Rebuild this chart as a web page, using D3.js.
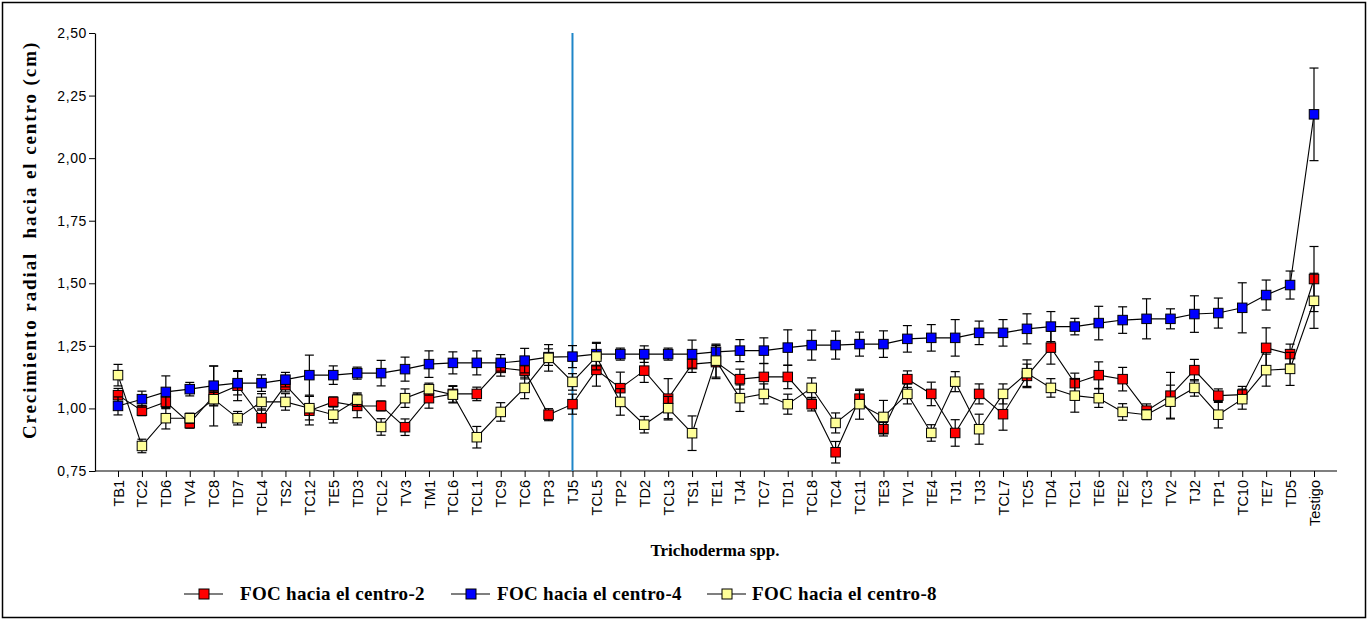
<!DOCTYPE html>
<html><head><meta charset="utf-8">
<script src="https://cdn.jsdelivr.net/npm/d3@7"></script>
<style>body{margin:0;background:#fff}svg{display:block}</style>
</head><body>
<svg id="c" width="1370" height="621"></svg>
<script>
const categories = ["TB1","TC2","TD6","TV4","TC8","TD7","TCL4","TS2","TC12","TE5","TD3","TCL2","TV3","TM1","TCL6","TCL1","TC9","TC6","TP3","TJ5","TCL5","TP2","TD2","TCL3","TS1","TE1","TJ4","TC7","TD1","TCL8","TC4","TC11","TE3","TV1","TE4","TJ1","TJ3","TCL7","TC5","TD4","TC1","TE6","TE2","TC3","TV2","TJ2","TP1","TC10","TE7","TD5","Testigo"];

const foc2 = [1.053,0.991,1.026,0.941,1.050,1.091,0.961,1.093,0.991,1.026,1.010,1.010,0.925,1.041,1.058,1.058,1.162,1.151,0.975,1.017,1.154,1.081,1.151,1.039,1.177,1.185,1.117,1.126,1.126,1.017,0.825,1.039,0.917,1.117,1.058,0.902,1.058,0.977,1.130,1.243,1.101,1.133,1.117,0.991,1.051,1.153,1.051,1.055,1.242,1.217,1.517];
const foc2Err = [0.027,0.020,0.027,0.020,0.120,0.060,0.037,0.027,0.057,0.020,0.047,0.020,0.033,0.040,0.033,0.027,0.033,0.033,0.024,0.040,0.065,0.064,0.047,0.080,0.033,0.066,0.040,0.053,0.047,0.027,0.043,0.033,0.027,0.033,0.047,0.053,0.040,0.064,0.047,0.066,0.040,0.053,0.047,0.027,0.093,0.043,0.027,0.033,0.080,0.040,0.130];

const foc4 = [1.010,1.037,1.066,1.077,1.091,1.101,1.101,1.115,1.133,1.133,1.141,1.141,1.157,1.177,1.182,1.182,1.182,1.191,1.205,1.207,1.217,1.217,1.217,1.217,1.217,1.226,1.231,1.231,1.243,1.253,1.253,1.257,1.257,1.278,1.282,1.282,1.302,1.302,1.318,1.327,1.327,1.341,1.353,1.358,1.358,1.377,1.381,1.402,1.453,1.493,2.175];
const foc4Err = [0.036,0.032,0.064,0.027,0.078,0.047,0.033,0.029,0.080,0.037,0.024,0.051,0.048,0.053,0.044,0.048,0.033,0.049,0.033,0.044,0.047,0.024,0.033,0.024,0.056,0.027,0.044,0.051,0.071,0.060,0.056,0.048,0.053,0.053,0.053,0.073,0.047,0.053,0.060,0.060,0.033,0.067,0.053,0.080,0.040,0.073,0.060,0.100,0.060,0.056,0.185];

const foc8 = [1.133,0.850,0.961,0.961,1.037,0.961,1.026,1.026,1.001,0.975,1.035,0.926,1.041,1.077,1.055,0.885,0.986,1.082,1.202,1.106,1.207,1.026,0.935,1.001,0.901,1.191,1.041,1.058,1.017,1.082,0.942,1.017,0.966,1.058,0.902,1.107,0.917,1.058,1.141,1.082,1.051,1.041,0.986,0.975,1.027,1.082,0.975,1.037,1.153,1.158,1.430];
const foc8Err = [0.043,0.027,0.043,0.020,0.027,0.027,0.033,0.033,0.047,0.033,0.027,0.033,0.037,0.024,0.033,0.043,0.037,0.043,0.053,0.033,0.053,0.053,0.033,0.047,0.069,0.066,0.053,0.040,0.040,0.040,0.040,0.060,0.066,0.040,0.033,0.040,0.060,0.040,0.053,0.037,0.066,0.037,0.033,0.020,0.066,0.033,0.053,0.040,0.064,0.066,0.110];

const yTicks = [0.75,1.00,1.25,1.50,1.75,2.00,2.25,2.50];
const seriesNames = ["FOC hacia el centro-2","FOC hacia el centro-4","FOC hacia el centro-8"];
const seriesColors = ["#ff0000","#0000ff","#ffff99"];
const dividerCategory = "TJ5";

const series = [
  {name: seriesNames[0], color: seriesColors[0], v: foc2, e: foc2Err},
  {name: seriesNames[1], color: seriesColors[1], v: foc4, e: foc4Err},
  {name: seriesNames[2], color: seriesColors[2], v: foc8, e: foc8Err}
];

const svg = d3.select("#c");
const sans = "'Liberation Sans', Arial, sans-serif";
const serif = "'Liberation Serif', 'Times New Roman', serif";

// outer frame
svg.append("rect").attr("x",2.5).attr("y",2.5).attr("width",1363).attr("height",615)
  .attr("fill","none").attr("stroke","#000").attr("stroke-width",1.5);

const m = {left: 95, right: 1337, top: 33, bottom: 471};
const x = d3.scalePoint().domain(categories).range([118, 1314]);
const y = d3.scaleLinear().domain([0.75, 2.5]).range([m.bottom, m.top]);
const fmt = v => d3.format(".2f")(v).replace(".", ",");

// Y axis
const yAxis = svg.append("g").attr("transform",`translate(${m.left},0)`)
  .call(d3.axisLeft(y).tickValues(yTicks).tickFormat(fmt).tickSize(6).tickSizeOuter(0));
yAxis.select(".domain").attr("stroke","#000").attr("stroke-width",1.2);
yAxis.selectAll("text").attr("font-family",sans).attr("font-size",14).attr("fill","#000")
  .attr("letter-spacing",0.6).attr("dx",1);

// X axis
const xAxis = svg.append("g").attr("transform",`translate(0,${m.bottom})`)
  .call(d3.axisBottom(x).tickSize(6).tickSizeOuter(0));
xAxis.select(".domain").attr("d",`M${m.left},0H${m.right}`).attr("stroke","#000").attr("stroke-width",1.2);
xAxis.selectAll("text").attr("font-family",sans).attr("font-size",14.5).attr("fill","#000")
  .attr("transform","rotate(-90)").attr("text-anchor","end").attr("dy","0.35em").attr("x",-9).attr("y",0);

// divider line
svg.append("line").attr("x1",x(dividerCategory)).attr("x2",x(dividerCategory))
  .attr("y1",y(2.5)).attr("y2",m.bottom).attr("stroke","#1f86c8").attr("stroke-width",2);

// series: lines, error bars, markers
const line = d3.line().x((d,i)=>x(categories[i])).y(d=>y(d));
series.forEach(s=>{
  const g = svg.append("g");
  g.append("path").datum(s.v).attr("d",line).attr("fill","none").attr("stroke","#000").attr("stroke-width",1.1);
  const eb = g.selectAll(".eb").data(s.v).enter().append("g");
  eb.append("line").attr("x1",(d,i)=>x(categories[i])).attr("x2",(d,i)=>x(categories[i]))
    .attr("y1",(d,i)=>y(d+s.e[i])).attr("y2",(d,i)=>y(d-s.e[i])).attr("stroke","#000").attr("stroke-width",1.2);
  [1,-1].forEach(sg=>{
    eb.append("line").attr("x1",(d,i)=>x(categories[i])-4.5).attr("x2",(d,i)=>x(categories[i])+4.5)
      .attr("y1",(d,i)=>y(d+sg*s.e[i])).attr("y2",(d,i)=>y(d+sg*s.e[i])).attr("stroke","#000").attr("stroke-width",1.2);
  });
  g.selectAll(".mk").data(s.v).enter().append("rect")
    .attr("x",(d,i)=>x(categories[i])-4.75).attr("y",d=>y(d)-4.75).attr("width",9.5).attr("height",9.5)
    .attr("fill",s.color).attr("stroke","#000").attr("stroke-width",1);
});

// axis titles
svg.append("text").attr("transform","translate(36,240) rotate(-90)").attr("text-anchor","middle")
  .attr("font-family",serif).attr("font-weight","bold").attr("font-size",19).attr("fill","#000")
  .attr("letter-spacing",1.9).attr("xml:space","preserve").text("Crecimiento radial  hacia el centro (cm)");
svg.append("text").attr("x",715).attr("y",556).attr("text-anchor","middle")
  .attr("font-family",serif).attr("font-weight","bold").attr("font-size",17).attr("fill","#000")
  .text("Trichoderma spp.");

// legend
const legSquare = [204, 471, 727];
const legText = [240, 497, 752];
series.forEach((s,i)=>{
  const g = svg.append("g").attr("transform",`translate(0,594)`);
  g.append("line").attr("x1",legSquare[i]-20).attr("x2",legSquare[i]+19).attr("y1",0).attr("y2",0).attr("stroke","#000").attr("stroke-width",1.2);
  g.append("rect").attr("x",legSquare[i]-5).attr("y",-5).attr("width",10).attr("height",10).attr("fill",s.color).attr("stroke","#000");
  g.append("text").attr("x",legText[i]).attr("y",6).attr("font-family",serif).attr("font-weight","bold")
    .attr("font-size",19).attr("letter-spacing",0.3).attr("fill","#000").text(s.name);
});
</script>
</body></html>
